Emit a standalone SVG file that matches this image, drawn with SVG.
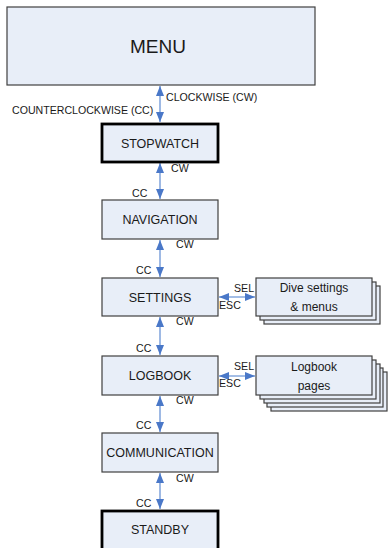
<svg xmlns="http://www.w3.org/2000/svg" width="388" height="548" viewBox="0 0 388 548">
<style>
.box{fill:#e8eef8;stroke:#404040;stroke-width:1.2}
.bold{fill:#e8eef8;stroke:#000;stroke-width:2.8}
.t{font-family:"Liberation Sans",Arial,sans-serif;font-size:12.5px;fill:#1a1a1a;text-anchor:middle}
.p{font-size:12px}
.l{font-family:"Liberation Sans",Arial,sans-serif;font-size:10.6px;fill:#1a1a1a}
.c{stroke:#86a8de;stroke-width:1.6;fill:none;marker-start:url(#ah);marker-end:url(#ah)}
</style>
<defs>
<marker id="ah" viewBox="0 0 10 8" refX="10" refY="4" markerWidth="10" markerHeight="8" markerUnits="userSpaceOnUse" orient="auto-start-reverse">
<path d="M0,0 L10,4 L0,8 Z" fill="#4a78c8"/>
</marker>
</defs>
<g id="connectors">
<line class="c" x1="160" y1="86" x2="160" y2="122"/>
<line class="c" x1="160" y1="163" x2="160" y2="199"/>
<line class="c" x1="160" y1="240" x2="160" y2="277"/>
<line class="c" x1="160" y1="317" x2="160" y2="355"/>
<line class="c" x1="160" y1="396" x2="160" y2="432"/>
<line class="c" x1="160" y1="473" x2="160" y2="509"/>
<line class="c" x1="219" y1="297" x2="255" y2="297"/>
<line class="c" x1="219" y1="376" x2="255" y2="376"/>
<text class="l" x="166" y="101">CLOCKWISE (CW)</text>
<text class="l" x="12" y="114">COUNTERCLOCKWISE (CC)</text>
<text class="l" x="171" y="172">CW</text>
<text class="l" x="132" y="197">CC</text>
<text class="l" x="176" y="248">CW</text>
<text class="l" x="136" y="274">CC</text>
<text class="l" x="176" y="325">CW</text>
<text class="l" x="136" y="352">CC</text>
<text class="l" x="176" y="404">CW</text>
<text class="l" x="136" y="429">CC</text>
<text class="l" x="176" y="482">CW</text>
<text class="l" x="136" y="507">CC</text>
<text class="l" x="234" y="292">SEL</text>
<text class="l" x="219" y="309">ESC</text>
<text class="l" x="234" y="370">SEL</text>
<text class="l" x="219" y="387">ESC</text>
</g>
<g id="menu">
<rect class="box" x="7" y="7" width="308" height="78"/>
<text class="t" x="158" y="53" style="font-size:19px">MENU</text>
</g>
<g id="stopwatch">
<rect class="bold" x="102" y="124" width="116" height="38"/>
<text class="t" x="160" y="148">STOPWATCH</text>
</g>
<g id="navigation">
<rect class="box" x="102" y="200" width="116" height="39"/>
<text class="t" x="160" y="224">NAVIGATION</text>
</g>
<g id="settings">
<rect class="box" x="102" y="278" width="116" height="38"/>
<text class="t" x="160" y="302">SETTINGS</text>
</g>
<g id="dive-settings">
<rect class="box" x="264" y="286" width="116" height="38"/>
<rect class="box" x="260" y="282" width="116" height="38"/>
<rect class="box" x="256" y="278" width="116" height="38"/>
<text class="t p" x="314" y="292">Dive settings</text>
<text class="t p" x="314" y="311">&amp; menus</text>
</g>
<g id="logbook">
<rect class="box" x="102" y="356" width="116" height="39"/>
<text class="t" x="160" y="380">LOGBOOK</text>
</g>
<g id="logbook-pages">
<rect class="box" x="271" y="372" width="116" height="39"/>
<rect class="box" x="267" y="368" width="116" height="39"/>
<rect class="box" x="264" y="364" width="116" height="39"/>
<rect class="box" x="260" y="360" width="116" height="39"/>
<rect class="box" x="256" y="356" width="116" height="39"/>
<text class="t p" x="314" y="371">Logbook</text>
<text class="t p" x="314" y="390">pages</text>
</g>
<g id="communication">
<rect class="box" x="102" y="433" width="116" height="39"/>
<text class="t" x="160" y="457">COMMUNICATION</text>
</g>
<g id="standby">
<rect class="bold" x="102" y="511" width="116" height="40"/>
<text class="t" x="160" y="534">STANDBY</text>
</g>
</svg>
